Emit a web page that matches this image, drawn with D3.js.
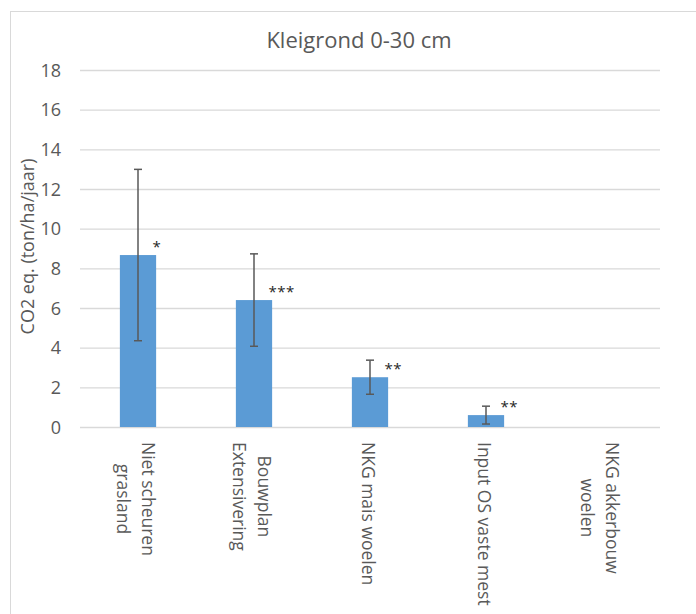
<!DOCTYPE html>
<html>
<head>
<meta charset="utf-8">
<script src="https://cdn.jsdelivr.net/npm/d3@7"></script>
<style>
  html, body { margin: 0; padding: 0; background: #ffffff; }
  svg { display: block; }
  text { font-family: "Open Sans", "Noto Sans", sans-serif; }
</style>
</head>
<body>
<svg id="chart" width="696" height="614"></svg>
<script>
// Chart data
const title = "Kleigrond 0-30 cm";
const yAxisTitle = "CO2 eq. (ton/ha/jaar)";
const categories = [
  "Niet scheuren grasland",
  "Bouwplan Extensivering",
  "NKG mais woelen",
  "Input OS vaste mest",
  "NKG akkerbouw woelen"
];
// Line breaks used for the category labels
const categoryLines = [
  ["Niet scheuren", "grasland"],
  ["Bouwplan", "Extensivering"],
  ["NKG mais woelen"],
  ["Input OS vaste mest"],
  ["NKG akkerbouw", "woelen"]
];
const values = [8.67, 6.40, 2.51, 0.60, 0];
const errors = [4.32, 2.33, 0.86, 0.45, 0];
const significance = ["*", "***", "**", "**", ""];
const yTicks = [0, 2, 4, 6, 8, 10, 12, 14, 16, 18];

const svg = d3.select("#chart");
const W = 696, H = 614;
const plot = { left: 80, right: 660, top: 70, bottom: 427 };

// Outer chart frame
svg.append("rect")
  .attr("x", 10.5).attr("y", 11.5)
  .attr("width", W + 20).attr("height", H + 20)
  .attr("fill", "#ffffff")
  .attr("stroke", "#d9d9d9")
  .attr("stroke-width", 1);

const x = d3.scaleBand()
  .domain(categories)
  .range([plot.left, plot.right])
  .paddingInner(2.2 / 3.2)
  .paddingOuter(1.1 / 3.2);

const y = d3.scaleLinear()
  .domain([0, 18])
  .range([plot.bottom, plot.top]);

// Gridlines and tick labels
const yAxis = d3.axisLeft(y)
  .tickValues(yTicks)
  .tickSize(-(plot.right - plot.left))
  .tickPadding(19)
  .tickFormat(d3.format("d"));

const gy = svg.append("g")
  .attr("transform", `translate(${plot.left},0)`)
  .call(yAxis);
gy.select(".domain").remove();
gy.selectAll(".tick line")
  .attr("stroke", "#d9d9d9")
  .attr("stroke-width", 1.3);
gy.selectAll(".tick text")
  .attr("fill", "#595959")
  .attr("font-size", "18px")
  .attr("dy", "0.35em");

// Title
svg.append("text")
  .attr("x", 359).attr("y", 48)
  .attr("text-anchor", "middle")
  .attr("font-size", "22px")
  .attr("fill", "#595959")
  .text(title);

// Y axis title
svg.append("text")
  .attr("transform", `translate(34,${(plot.top + plot.bottom) / 2 - 2}) rotate(-90)`)
  .attr("text-anchor", "middle")
  .attr("font-size", "18px")
  .attr("fill", "#595959")
  .text(yAxisTitle);

// Bars
const idx = d3.range(categories.length);
svg.append("g").selectAll("rect")
  .data(idx.filter(i => values[i] > 0))
  .join("rect")
  .attr("x", i => x(categories[i]))
  .attr("y", i => y(values[i]))
  .attr("width", x.bandwidth())
  .attr("height", i => y(0) - y(values[i]))
  .attr("fill", "#5b9bd5");

// Error bars
const eb = svg.append("g")
  .attr("stroke", "#595959")
  .attr("stroke-width", 1.5)
  .attr("fill", "none");
idx.filter(i => errors[i] > 0).forEach(i => {
  const cx = x(categories[i]) + x.bandwidth() / 2;
  const lo = y(values[i] - errors[i]);
  const hi = y(values[i] + errors[i]);
  eb.append("line").attr("x1", cx).attr("x2", cx).attr("y1", hi).attr("y2", lo);
  eb.append("line").attr("x1", cx - 4).attr("x2", cx + 4).attr("y1", hi).attr("y2", hi);
  eb.append("line").attr("x1", cx - 4).attr("x2", cx + 4).attr("y1", lo).attr("y2", lo);
});

// Significance markers
svg.append("g").selectAll("text")
  .data(idx.filter(i => significance[i]))
  .join("text")
  .attr("x", i => x(categories[i]) + x.bandwidth() / 2 + 14.5)
  .attr("y", i => y(values[i]) - 12 + 8.5)
  .attr("font-size", "15px")
  .attr("letter-spacing", "0.5px")
  .attr("fill", "#262626")
  .text(i => significance[i]);

// Category labels, rotated and centred per line
const lineH = 24.5;
const gx = svg.append("g");
idx.forEach(i => {
  const lines = categoryLines[i];
  const cx = x(categories[i]) + x.bandwidth() / 2;
  const g = gx.append("g")
    .attr("transform", `translate(${cx},442) rotate(90)`);
  const texts = lines.map((ln, k) => g.append("text")
    .attr("y", 8.5 + (k - (lines.length - 1) / 2) * lineH)
    .attr("font-size", "17.5px")
    .attr("fill", "#595959")
    .text(ln));
  const maxLen = d3.max(texts, t => t.node().getComputedTextLength());
  texts.forEach(t => t.attr("x", maxLen / 2).attr("text-anchor", "middle"));
});
</script>
</body>
</html>
